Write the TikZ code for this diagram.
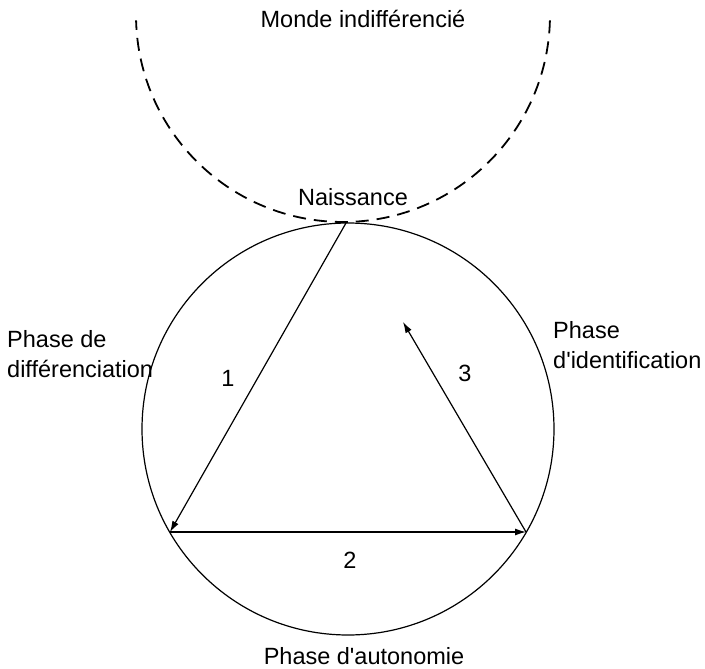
\documentclass[tikz,border=0pt]{standalone}
\usepackage{fontspec}
\setmainfont{Liberation Sans}
\usetikzlibrary{arrows.meta}
\begin{document}
\begin{tikzpicture}[x=1pt,y=-1pt,
  lbl/.style={inner sep=0pt,font=\fontsize{23.5}{29.5}\selectfont},
  arr/.style={line width=1.2pt,-{Latex[length=11pt,width=7pt]}},
  ring/.style={circle,draw,line width=1.2pt,minimum size=412pt,inner sep=0pt}]
\useasboundingbox (0,0) rectangle (705,669);
\fill[white] (0,0) rectangle (705,669);
% dashed outer world
\draw[line width=1.8pt,dash pattern=on 13pt off 8pt] (343,15) ++(1.5:207) arc[start angle=1.5,end angle=178.5,radius=207];
% life circle
\node[ring] (C) at (348,429) {};
\coordinate (N) at (346,223);
\coordinate (D) at (170,532);
\coordinate (I) at (526,532);
\coordinate (E) at (403,322);
\draw[arr] (N) -- (D);
\draw[arr] (D) -- (I);
\draw[arr] (I) -- (E);
% labels
\node[lbl,anchor=base] (monde) at (363,28) {Monde indifférencié};
\node[lbl,anchor=base] (naiss) at (353,205) {Naissance};
\node[lbl,anchor=base west,align=left] (diff) at (7,377) {Phase de\\différenciation};
\node[lbl,anchor=base west,align=left] (ident) at (553,368) {Phase\\d\textquotesingle identification};
\node[lbl,anchor=base] (autonomie) at (364,664) {Phase d\textquotesingle autonomie};
\node[lbl] (one) at (228,378) {1};
\node[lbl] (two) at (350,560) {2};
\node[lbl] (three) at (465,373) {3};
\end{tikzpicture}
\end{document}
